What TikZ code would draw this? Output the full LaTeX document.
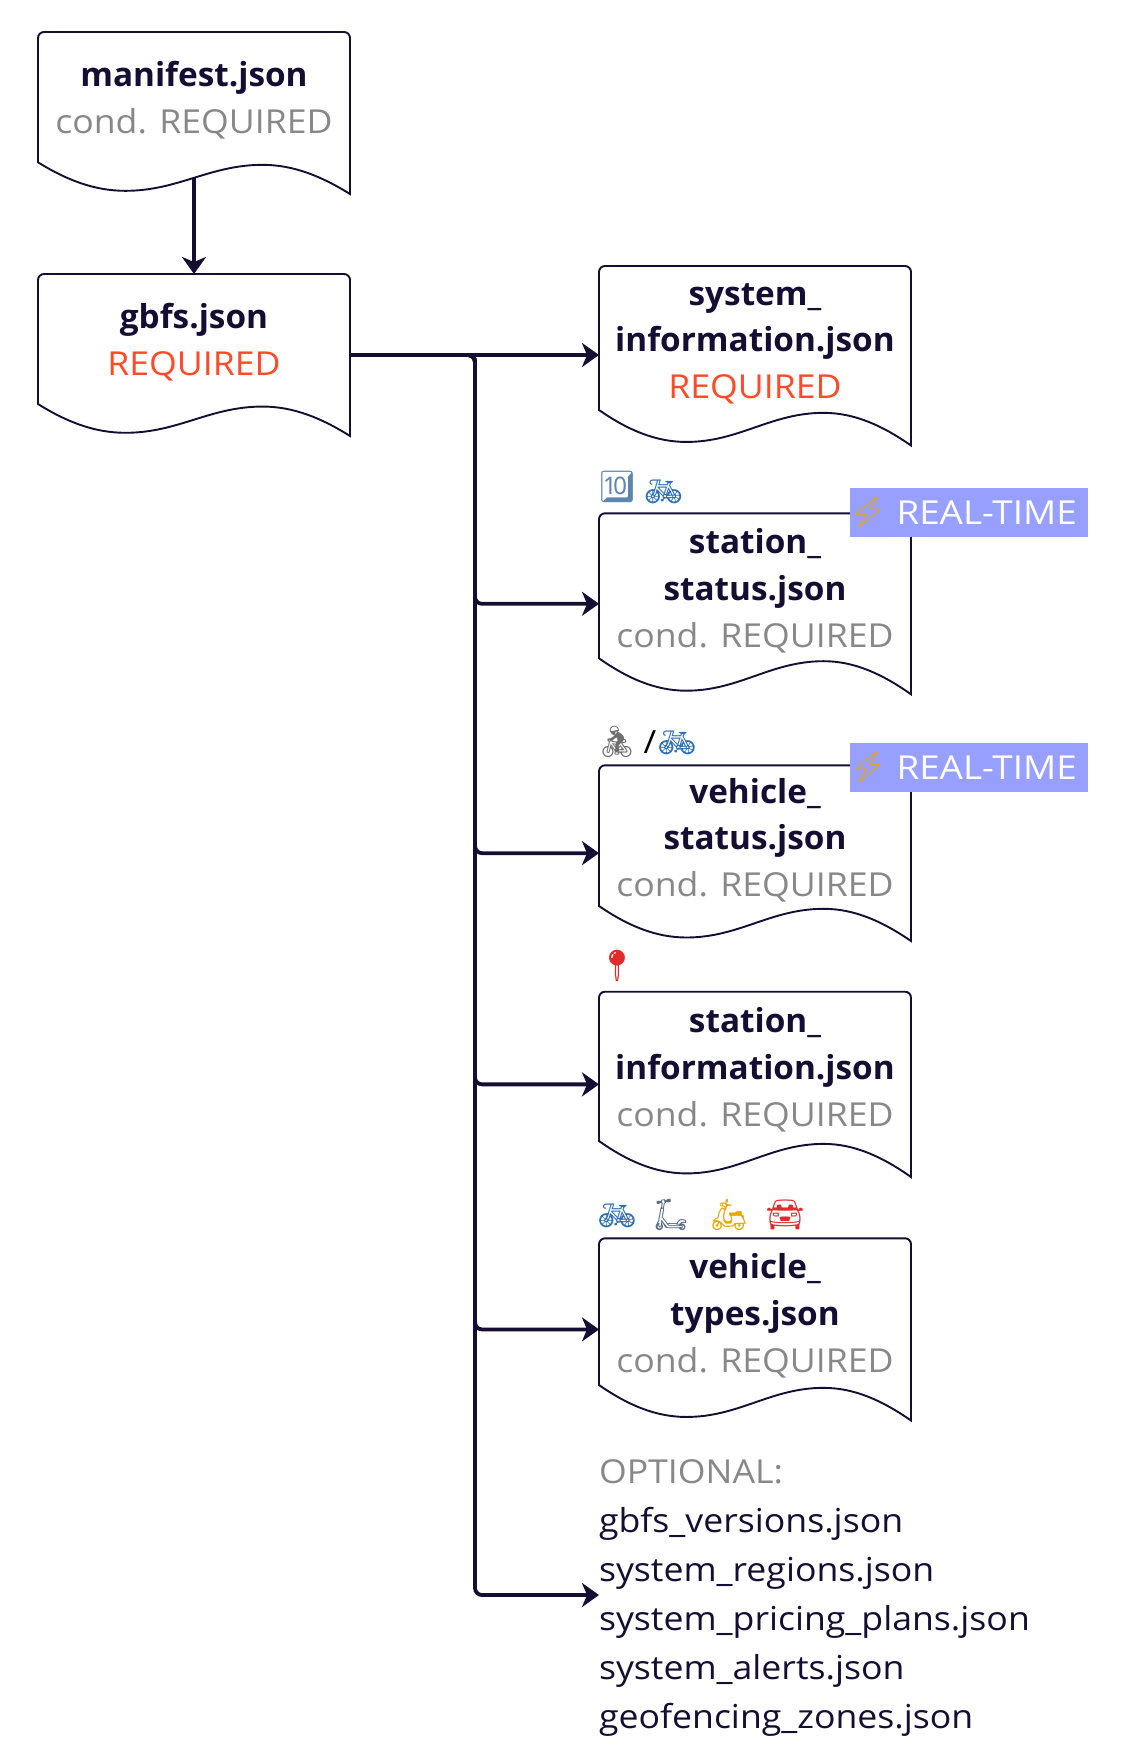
\documentclass[tikz,border=0pt]{standalone}
\usepackage{fontspec}
\usetikzlibrary{arrows.meta,backgrounds}
\setmainfont{Open Sans}[UprightFeatures={FakeStretch=1.08},BoldFeatures={FakeStretch=1.01}]
\newfontfamily\badgefont{Open Sans}[FakeStretch=1.115]
\newfontfamily\emojifont{Noto Emoji}
\definecolor{ink}{HTML}{160D33}
\definecolor{muted}{HTML}{888888}
\definecolor{reqred}{HTML}{FF4A28}
\definecolor{badgeblue}{HTML}{979FFF}
\definecolor{emoblue}{HTML}{2F6FB5}
\definecolor{emokey}{HTML}{5D86AE}
\definecolor{emogold}{HTML}{E8A800}
\definecolor{emored}{HTML}{E32B2B}
\definecolor{emoslate}{HTML}{5A6E85}
\definecolor{emograph}{HTML}{6E6E6E}
\tikzset{
  conn/.style={draw=ink,line width=3.8pt,-{Stealth[length=17pt,width=24pt,inset=5pt]},rounded corners=7pt},
  doctext/.style={align=center,inner sep=0pt,outer sep=0pt,text=ink,font=\fontsize{33}{46.8}\selectfont,anchor=north},
  docarea/.style={inner sep=0pt,outer sep=0pt,minimum width=312pt},
  docline/.style={draw=ink,line width=1.9pt,fill=white,line join=miter,miter limit=20},
  optlist/.style={align=left,inner sep=0pt,outer sep=0pt,text=ink,font=\fontsize{33}{48.9}\selectfont,anchor=north west},
  emoji/.style={inner sep=0pt,outer sep=0pt,font=\emojifont\fontsize{31}{31}\selectfont},
  badge/.style={fill=badgeblue,text=white,inner sep=0pt,outer sep=0pt,minimum width=237.6pt,minimum height=48.7pt,anchor=north west,font=\badgefont\fontsize{33}{33}\selectfont},
}
% name, left, top, bottom-left, bottom-right, first baseline, text
\newcommand{\docbox}[7]{%
  \pgfmathsetmacro\dbh{#5-#3}%
  \pgfmathsetmacro\dbd{#5-#4}%
  \pgfmathsetmacro\dbt{-(#4-#3)/(#5-#4)}%
  \node[docarea,minimum height=\dbh pt,anchor=north west] (#1) at (#2,#3) {};
  \begin{scope}[shift={(#2,#4)},x=312pt,y={(0pt,-\dbd pt)}]
    \path[docline] (0,0) [rounded corners=6pt] -- (0,\dbt) -- (1,\dbt) [sharp corners] -- (1,1)
      .. controls (.91,.45) and (.82,.08) .. (.72,.08)
      .. controls (.55,.08) and (.45,.9) .. (.28,.9)
      .. controls (.18,.9) and (.09,.55) .. (0,0) -- cycle;
  \end{scope}
  \pgfmathsetmacro\dbx{#2+156}%
  \pgfmathsetmacro\dby{#6-30}%
  \node[doctext] (#1text) at (\dbx,\dby) {\rule{0pt}{30pt}#7};
}
\newcommand{\fname}[1]{{\bfseries #1}}
\newcommand{\condreq}{\textcolor{muted}{cond. REQUIRED}}
\newcommand{\fullreq}{\textcolor{reqred}{REQUIRED}}
\newcommand{\rtlabel}{\makebox[237.6pt][l]{\hspace*{2pt}\makebox[32pt]{\textcolor{emogold}{\emojifont\fontsize{30}{30}\selectfont ⚡}}\hspace{12.5pt}\raisebox{-2pt}{REAL-TIME}}}
\begin{document}
\begin{tikzpicture}[x=1pt,y=-1pt]
\useasboundingbox (0,0) rectangle (1126,1760);

\docbox{manifest}{38}{32}{162.3}{194}{87}{\fname{manifest.json}\\\condreq}
\docbox{gbfs}{38}{274}{404}{436}{328.5}{\fname{gbfs.json}\\\fullreq}
\docbox{sysinfo}{599}{266}{410}{445.5}{305}{\fname{system\_}\\\fname{information.json}\\\fullreq}
\docbox{stastatus}{599}{513.3}{658.3}{694.3}{553.7}{\fname{station\_}\\\fname{status.json}\\\condreq}
\docbox{vehstatus}{599}{765.3}{906}{941}{803}{\fname{vehicle\_}\\\fname{status.json}\\\condreq}
\docbox{stainfo}{599}{991.7}{1141}{1177}{1032.8}{\fname{station\_}\\\fname{information.json}\\\condreq}
\docbox{vehtypes}{599}{1238.3}{1385}{1420.5}{1278.4}{\fname{vehicle\_}\\\fname{types.json}\\\condreq}

\node[optlist] (optional) at (599,1453.8) {\rule{0pt}{30pt}\textcolor{muted}{OPTIONAL:}\\gbfs\_versions.json\\system\_regions.json\\system\_pricing\_plans.json\\system\_alerts.json\\geofencing\_zones.json};

\coordinate (bus) at (475,355);
\begin{scope}[on background layer]
  \fill[white] (0,0) rectangle (1126,1760);
  \draw[conn] (manifest.center) -- (manifest.center |- gbfs.north);
  \draw[conn] (gbfs.east) -- (sysinfo.west |- gbfs.east);
  \draw[conn] (gbfs.east) -- (bus) |- (stastatus.west);
  \draw[conn] (gbfs.east) -- (bus) |- (vehstatus.west);
  \draw[conn] (gbfs.east) -- (bus) |- (stainfo.west);
  \draw[conn] (gbfs.east) -- (bus) |- (vehtypes.west);
  \draw[conn] (gbfs.east) -- (bus) |- (optional.west);
\end{scope}

\node[badge] (rt1) at (850,488) {\rtlabel};
\node[badge] (rt2) at (850,743.3) {\rtlabel};

\node[emoji,text=emokey] (e1) at (617,486.5) {🔟};
\node[emoji,text=emoblue] (e2) at (663.5,492) {🚲};
\node[emoji,text=emograph] (e3) at (617,742) {🚴};
\node[inner sep=0pt,text=black,font=\fontsize{32}{32}\selectfont] (e4) at (650,742) {/};
\node[emoji,text=emoblue] (e5) at (677,743) {🚲};
\node[emoji,text=emored] (e6) at (617,966) {📍};
\node[emoji,text=emoblue] (e7) at (617,1216) {🚲};
\node[emoji,text=emoslate] (e8) at (671,1215) {🛴};
\node[emoji,text=emogold] (e9) at (729,1215) {🛵};
\node[emoji,text=emored] (e10) at (785,1215) {🚘};
\end{tikzpicture}
\end{document}
